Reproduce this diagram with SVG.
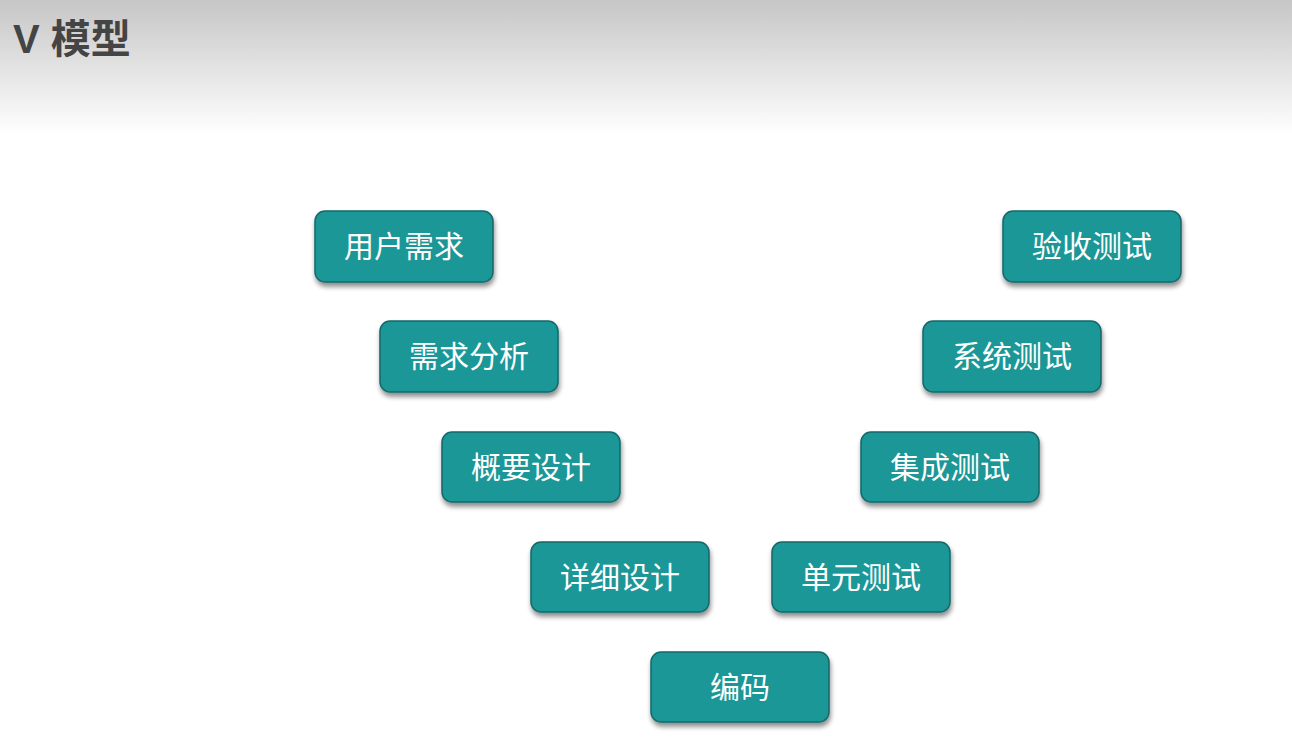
<svg xmlns="http://www.w3.org/2000/svg" width="1292" height="753" viewBox="0 0 1292 753">
<defs>
<linearGradient id="hdr" x1="0" y1="0" x2="0" y2="1">
<stop offset="0" stop-color="#c6c6c6"/>
<stop offset="1" stop-color="#ffffff"/>
</linearGradient>
<filter id="sh" x="-20%" y="-20%" width="140%" height="160%">
<feGaussianBlur in="SourceAlpha" stdDeviation="2.5"/>
<feOffset dx="1" dy="4" result="b"/>
<feComponentTransfer><feFuncA type="linear" slope="0.45"/></feComponentTransfer>
<feMerge><feMergeNode/><feMergeNode in="SourceGraphic"/></feMerge>
</filter>
</defs>
<style>
.box{fill:#1b9797;stroke:#14686a;stroke-width:1.5;filter:url(#sh)}
.lbl{fill:#ffffff;font-family:"Noto Sans CJK SC","Noto Sans",sans-serif;font-size:30px;font-weight:400;text-anchor:middle;dominant-baseline:central}
.title{fill:#444444;font-family:"Liberation Sans","Noto Sans CJK SC",sans-serif;font-size:40px;font-weight:bold}
</style>
<rect x="0" y="0" width="1292" height="753" fill="#ffffff"/>
<rect x="0" y="0" width="1292" height="135" fill="url(#hdr)"/>
<text class="title" x="13" y="53">V 模型</text>
<g id="connectors"></g>
<g id="n1"><rect class="box" x="315" y="211" width="178" height="71" rx="10"/><text class="lbl" x="404" y="244">用户需求</text></g>
<g id="n2"><rect class="box" x="380" y="321" width="178" height="71" rx="10"/><text class="lbl" x="469" y="354">需求分析</text></g>
<g id="n3"><rect class="box" x="442" y="432" width="178" height="70" rx="10"/><text class="lbl" x="531" y="465">概要设计</text></g>
<g id="n4"><rect class="box" x="531" y="542" width="178" height="70" rx="10"/><text class="lbl" x="620" y="575">详细设计</text></g>
<g id="n5"><rect class="box" x="651" y="652" width="178" height="70" rx="10"/><text class="lbl" x="740" y="685">编码</text></g>
<g id="n6"><rect class="box" x="772" y="542" width="178" height="70" rx="10"/><text class="lbl" x="861" y="575">单元测试</text></g>
<g id="n7"><rect class="box" x="861" y="432" width="178" height="70" rx="10"/><text class="lbl" x="950" y="465">集成测试</text></g>
<g id="n8"><rect class="box" x="923" y="321" width="178" height="71" rx="10"/><text class="lbl" x="1012" y="354">系统测试</text></g>
<g id="n9"><rect class="box" x="1003" y="211" width="178" height="71" rx="10"/><text class="lbl" x="1092" y="244">验收测试</text></g>
</svg>
